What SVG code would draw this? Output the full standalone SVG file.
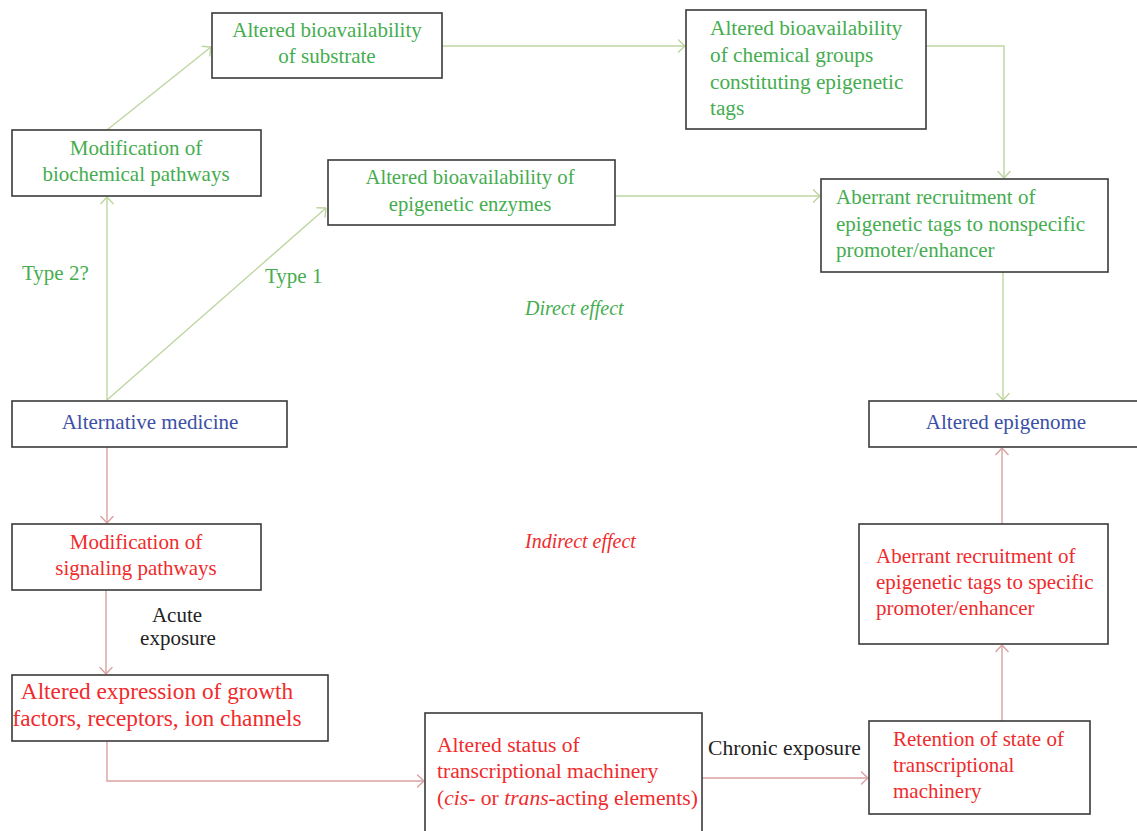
<svg xmlns="http://www.w3.org/2000/svg" width="1137" height="831" viewBox="0 0 1137 831">
<style>
  .box { fill: #ffffff; stroke: #3a3a3a; stroke-width: 1.6; }
  text { font-family: "Liberation Serif", "Times New Roman", serif; font-size: 21px; }
  .g { fill: #45ad4f; }
  .r { fill: #ef2b2d; }
  .b { fill: #3b50a5; }
  .k { fill: #222222; }
  .c { text-anchor: middle; }
  .i { font-style: italic; font-size: 20px; }
  .s207 { font-size: 20.7px; }
  .s213 { font-size: 21.3px; }
  .s216 { font-size: 21.6px; }
  .s233 { font-size: 23.3px; }
  .lg { fill: none; stroke: #bdd69f; stroke-width: 1.4; }
  .lr { fill: none; stroke: #d9a1a1; stroke-width: 1.4; }
</style>
<defs>
  <marker id="ag" markerUnits="userSpaceOnUse" viewBox="0 0 8 14" refX="7.5" refY="7" markerWidth="8" markerHeight="14" orient="auto">
    <path d="M0.5,0.5 L7.5,7 L0.5,13.5" fill="none" stroke="#bdd69f" stroke-width="1.4"/>
  </marker>
  <marker id="ar" markerUnits="userSpaceOnUse" viewBox="0 0 8 14" refX="7.5" refY="7" markerWidth="8" markerHeight="14" orient="auto">
    <path d="M0.5,0.5 L7.5,7 L0.5,13.5" fill="none" stroke="#d9a1a1" stroke-width="1.4"/>
  </marker>
</defs>
<rect width="1137" height="831" fill="#ffffff"/>

<g id="connectors">
  <path class="lg" d="M107,400 L107,197" marker-end="url(#ag)"/>
  <path class="lg" d="M107,400 L326,208" marker-end="url(#ag)"/>
  <path class="lg" d="M107,130 L211,47" marker-end="url(#ag)"/>
  <path class="lg" d="M442,46 L685,46" marker-end="url(#ag)"/>
  <path class="lg" d="M926,46 L1004,46 L1004,178" marker-end="url(#ag)"/>
  <path class="lg" d="M615,196 L820,196" marker-end="url(#ag)"/>
  <path class="lg" d="M1003,272 L1003,400" marker-end="url(#ag)"/>
  <path class="lr" d="M107,447 L107,523" marker-end="url(#ar)"/>
  <path class="lr" d="M106,590 L106,674" marker-end="url(#ar)"/>
  <path class="lr" d="M107,741 L107,781 L424,781" marker-end="url(#ar)"/>
  <path class="lr" d="M702,778 L868,778" marker-end="url(#ar)"/>
  <path class="lr" d="M1002,721 L1002,645" marker-end="url(#ar)"/>
  <path class="lr" d="M1002,524 L1002,448" marker-end="url(#ar)"/>
</g>

<g id="labels">
  <text class="g" x="22" y="280">Type 2?</text>
  <text class="g" x="265" y="283">Type 1</text>
  <text class="g i" x="525" y="315">Direct effect</text>
  <text class="r i" x="525" y="548">Indirect effect</text>
  <text class="k c" x="177" y="622">Acute</text>
  <text class="k c" x="178" y="645">exposure</text>
  <text class="k s216" x="708" y="755">Chronic exposure</text>
</g>

<g id="n-substrate">
  <rect class="box" x="212" y="13" width="230" height="65"/>
  <text class="g c" x="327" y="37">Altered bioavailability</text>
  <text class="g c" x="327" y="63">of substrate</text>
</g>

<g id="n-chemical">
  <rect class="box" x="686" y="10" width="240" height="119"/>
  <text class="g s213" x="710" y="35">Altered bioavailability</text>
  <text class="g s213" x="710" y="62">of chemical groups</text>
  <text class="g s213" x="710" y="89">constituting epigenetic</text>
  <text class="g s213" x="710" y="115">tags</text>
</g>

<g id="n-biochemical">
  <rect class="box" x="12" y="130" width="249" height="66"/>
  <text class="g c" x="136" y="155">Modification of</text>
  <text class="g c" x="136" y="181">biochemical pathways</text>
</g>

<g id="n-enzymes">
  <rect class="box" x="328" y="160" width="287" height="65"/>
  <text class="g c s207" x="470" y="184">Altered bioavailability of</text>
  <text class="g c s207" x="470" y="211">epigenetic enzymes</text>
</g>

<g id="n-nonspecific">
  <rect class="box" x="821" y="179" width="287" height="93"/>
  <text class="g" x="836" y="204">Aberrant recruitment of</text>
  <text class="g" x="836" y="231">epigenetic tags to nonspecific</text>
  <text class="g" x="836" y="257">promoter/enhancer</text>
</g>

<g id="n-altmed">
  <rect class="box" x="12" y="401" width="275" height="46"/>
  <text class="b c" x="150" y="429">Alternative medicine</text>
</g>

<g id="n-epigenome">
  <rect class="box" x="869" y="401" width="280" height="46"/>
  <text class="b c" x="1006" y="429">Altered epigenome</text>
</g>

<g id="n-signaling">
  <rect class="box" x="12" y="524" width="249" height="66"/>
  <text class="r c" x="136" y="549">Modification of</text>
  <text class="r c" x="136" y="575">signaling pathways</text>
</g>

<g id="n-specific">
  <rect class="box" x="859" y="524" width="249" height="120"/>
  <text class="r" x="876" y="563">Aberrant recruitment of</text>
  <text class="r" x="876" y="589">epigenetic tags to specific</text>
  <text class="r" x="876" y="615">promoter/enhancer</text>
</g>

<g id="n-growth">
  <rect class="box" x="12" y="675" width="316" height="66"/>
  <text class="r c s233" x="157" y="699">Altered expression of growth</text>
  <text class="r c s233" x="157" y="726">factors, receptors, ion channels</text>
</g>

<g id="n-transcriptional">
  <rect class="box" x="425" y="713" width="277" height="130"/>
  <text class="r s216" x="437" y="752">Altered status of</text>
  <text class="r s216" x="437" y="778">transcriptional machinery</text>
  <text class="r s216" x="437" y="805">(<tspan font-style="italic">cis</tspan>- or <tspan font-style="italic">trans</tspan>-acting elements)</text>
</g>

<g id="n-retention">
  <rect class="box" x="869" y="721" width="221" height="93"/>
  <text class="r" x="893" y="746">Retention of state of</text>
  <text class="r" x="893" y="772">transcriptional</text>
  <text class="r" x="893" y="798">machinery</text>
</g>
</svg>
